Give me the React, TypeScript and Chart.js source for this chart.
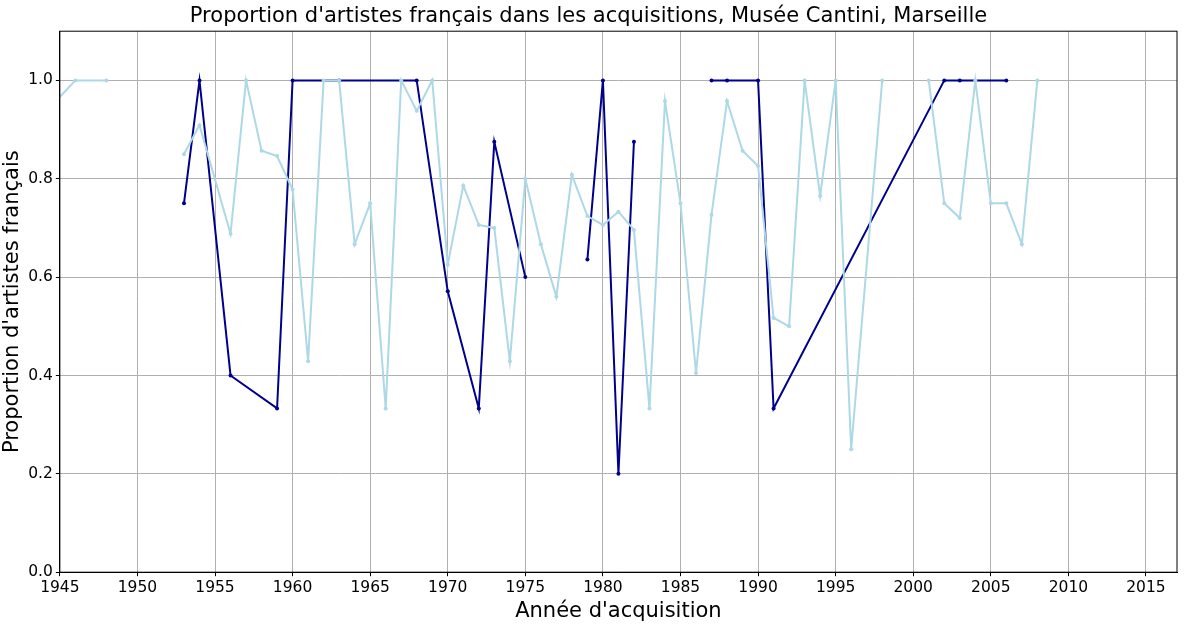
import Chart from "chart.js/auto";
import { useEffect, useRef } from "react";

const lightYears = [1944, 1946, 1948, 1950, 1953, 1954, 1956, 1957, 1958, 1959, 1960, 1961, 1962, 1963, 1964, 1965, 1966, 1967, 1968, 1969, 1970, 1971, 1972, 1973, 1974, 1975, 1976, 1977, 1978, 1979, 1980, 1981, 1982, 1983, 1984, 1985, 1986, 1987, 1988, 1989, 1990, 1991, 1992, 1993, 1994, 1995, 1996, 1998, 1999, 2001, 2002, 2003, 2004, 2005, 2006, 2007, 2008];
const lightValues = [0.933, 1.0, 1.0, null, 0.85, 0.909, 0.688, 1.0, 0.857, 0.846, 0.778, 0.429, 1.0, 1.0, 0.667, 0.75, 0.333, 1.0, 0.938, 1.0, 0.625, 0.786, 0.706, 0.7, 0.429, 0.8, 0.667, 0.56, 0.808, 0.724, 0.706, 0.733, 0.696, 0.333, 0.958, 0.75, 0.405, 0.727, 0.958, 0.857, 0.826, 0.517, 0.5, 1.0, 0.765, 1.0, 0.25, 1.0, null, 1.0, 0.75, 0.72, 1.0, 0.75, 0.75, 0.667, 1.0];

const darkYears = [1953, 1954, 1956, 1959, 1960, 1963, 1968, 1970, 1972, 1973, 1975, 1977, 1979, 1980, 1981, 1982, 1984, 1987, 1988, 1990, 1991, 2002, 2003, 2006];
const darkValues = [0.75, 1.0, 0.4, 0.333, 1.0, 1.0, 1.0, 0.571, 0.333, 0.875, 0.6, null, 0.636, 1.0, 0.2, 0.875, null, 1.0, 1.0, 1.0, 0.333, 1.0, 1.0, 1.0];

const xTicks = [1945, 1950, 1955, 1960, 1965, 1970, 1975, 1980, 1985, 1990, 1995, 2000, 2005, 2010, 2015];
const yTicks = [0, 0.2, 0.4, 0.6, 0.8, 1.0];

const font = "'DejaVu Sans', sans-serif";

// full frame around the plot area, like matplotlib
const frame = {
  id: "frame",
  afterDraw(chart: Chart) {
    const { ctx, chartArea: a } = chart;
    ctx.save();
    ctx.strokeStyle = "#000";
    ctx.lineWidth = 1;
    ctx.strokeRect(a.left, a.top, a.right - a.left, a.bottom - a.top);
    ctx.restore();
  },
};

export default function App() {
  const canvasRef = useRef<HTMLCanvasElement | null>(null);

  useEffect(() => {
    if (!canvasRef.current) return;
    const ctx = canvasRef.current.getContext("2d");
    if (!ctx) return;

    const chart = new Chart(ctx, {
      type: "line",
      data: {
        datasets: [
          {
            label: "light",
            data: lightYears.map((x, i) => ({ x, y: lightValues[i] })),
            borderColor: "#add8e6",
            backgroundColor: "#add8e6",
            borderWidth: 2,
            pointRadius: 2,
            pointBorderWidth: 0,
            spanGaps: false,
          },
          {
            label: "dark",
            data: darkYears.map((x, i) => ({ x, y: darkValues[i] })),
            borderColor: "#00008b",
            backgroundColor: "#00008b",
            borderWidth: 2,
            pointRadius: 2,
            pointBorderWidth: 0,
            spanGaps: false,
          },
        ],
      },
      plugins: [frame],
      options: {
        animation: false,
        responsive: true,
        maintainAspectRatio: false,
        layout: { padding: { left: 0, right: 10, top: 0, bottom: 0 } },
        plugins: {
          legend: { display: false },
          tooltip: { enabled: false },
          title: {
            display: true,
            text: "Proportion d'artistes français dans les acquisitions, Musée Cantini, Marseille",
            color: "#000",
            font: { family: font, size: 21, weight: "normal" },
            padding: { top: 4, bottom: 2 },
          },
        },
        scales: {
          x: {
            type: "linear",
            min: 1945,
            max: 2017,
            afterBuildTicks: (axis) => {
              axis.ticks = xTicks.map((value) => ({ value }));
            },
            ticks: {
              color: "#000",
              font: { family: font, size: 15.5 },
              maxRotation: 0,
              padding: 2,
              callback: (v) => String(v),
            },
            grid: { color: "#b0b0b0", drawTicks: true, tickLength: 4, tickColor: "#000" },
            border: { color: "#000" },
            title: {
              display: true,
              text: "Année d'acquisition",
              color: "#000",
              font: { family: font, size: 21 },
              padding: { top: 0, bottom: 2 },
            },
          },
          y: {
            min: 0,
            max: 1.1,
            afterBuildTicks: (axis) => {
              axis.ticks = yTicks.map((value) => ({ value }));
            },
            ticks: {
              color: "#000",
              font: { family: font, size: 15.5 },
              padding: 3,
              callback: (v) => Number(v).toFixed(1),
            },
            grid: { color: "#b0b0b0", tickLength: 4, tickColor: "#000" },
            border: { color: "#000" },
            title: {
              display: true,
              text: "Proportion d'artistes français",
              color: "#000",
              font: { family: font, size: 21 },
              padding: { top: 0, bottom: 0 },
            },
          },
        },
      },
    });

    return () => {
      chart.destroy();
    };
  }, []);

  return (
    <div style={{ position: "absolute", left: 0, top: 0, width: 1187, height: 626, background: "#fff" }}>
      <canvas ref={canvasRef}></canvas>
    </div>
  );
}
